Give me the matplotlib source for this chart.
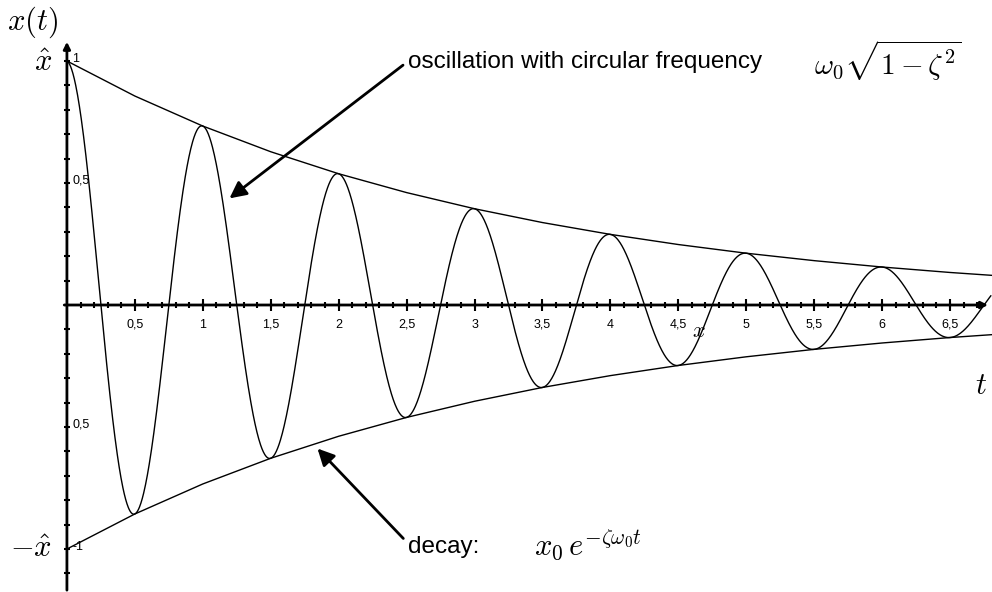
import numpy as np
import matplotlib.pyplot as plt

plt.rcParams['font.family'] = ['Liberation Sans', 'DejaVu Sans']
plt.rcParams['mathtext.fontset'] = 'cm'

# damped oscillation parameters
decay_rate = 0.31      # zeta * omega_0
freq = 1.0             # oscillations per unit of t
t_end = 6.8

x_tick_pos = [0.5, 1, 1.5, 2, 2.5, 3, 3.5, 4, 4.5, 5, 5.5, 6, 6.5]
x_tick_lab = ['0,5', '1', '1,5', '2', '2,5', '3', '3,5', '4', '4,5', '5', '5,5', '6', '6,5']
y_tick_pos = [1, 0.5, -0.5, -1]
y_tick_lab = ['1', '0,5', '0,5', '-1']

t = np.linspace(0, t_end, 2000)
x = np.exp(-decay_rate * t) * np.cos(2 * np.pi * freq * t)
# envelope sampled coarsely, every half period
t_env = np.arange(0, t_end + 0.5, 0.5)
env = np.exp(-decay_rate * t_env)

fig = plt.figure(figsize=(9.92, 5.92), dpi=100)
ax = fig.add_axes([0, 0, 1, 1])
ax.set_xlim(-0.4926, 6.8088)
ax.set_ylim(-1.1762, 1.25)
ax.axis('off')

# curves
ax.plot(t, x, color='black', lw=1.0)
ax.plot(t_env, env, color='black', lw=1.0)
ax.plot(t_env, -env, color='black', lw=1.0)

# axes with arrow heads
ax.annotate('', xy=(6.80, 0), xytext=(-0.04, 0),
            arrowprops=dict(arrowstyle='-|>', color='black', lw=2, mutation_scale=10))
ax.annotate('', xy=(0, 1.09), xytext=(0, -1.18),
            arrowprops=dict(arrowstyle='-|>', color='black', lw=2, mutation_scale=10))

# ticks
minor_x = np.arange(0.1, 6.75, 0.1)
ax.plot(minor_x, np.zeros_like(minor_x), '|', color='black', ms=5, mew=1.5)
ax.plot(x_tick_pos, np.zeros(len(x_tick_pos)), '|', color='black', ms=9, mew=1.5)
minor_y = np.round(np.arange(-1.1, 1.01, 0.1), 2)
ax.plot(np.zeros_like(minor_y), minor_y, '_', color='black', ms=5, mew=1.5)

for p, s in zip(x_tick_pos, x_tick_lab):
    ax.text(p, -0.08, s, ha='center', va='center', fontsize=9)
for p, s in zip(y_tick_pos, y_tick_lab):
    ax.text(0.04, p + 0.01, s, ha='left', va='center', fontsize=9)

# axis labels
ax.text(-0.44, 1.16, '$x(t)$', ha='left', va='center', fontsize=22)
ax.text(-0.11, 0.99, r'$\hat{x}$', ha='right', va='center', fontsize=22)
ax.text(-0.11, -1.0, r'$-\hat{x}$', ha='right', va='center', fontsize=22)
ax.text(6.73, -0.33, '$t$', ha='center', va='center', fontsize=22)
ax.text(4.65, -0.11, '$x$', ha='center', va='center', fontsize=16)

# annotations
ax.annotate('', xy=(1.18, 0.43), xytext=(2.49, 0.99),
            arrowprops=dict(arrowstyle='-|>', color='black', lw=2, mutation_scale=25))
ax.text(2.51, 0.995, 'oscillation with circular frequency', ha='left', va='center', fontsize=17.5)
ax.text(5.5, 1.0, r'$\omega_0\sqrt{1-\zeta^2}$', ha='left', va='center', fontsize=21)

ax.annotate('', xy=(1.83, -0.58), xytext=(2.49, -0.965),
            arrowprops=dict(arrowstyle='-|>', color='black', lw=2, mutation_scale=25))
ax.text(2.51, -0.99, 'decay:', ha='left', va='center', fontsize=17.5)
ax.text(3.44, -0.985, r'$x_0\,e^{-\zeta\omega_0 t}$', ha='left', va='center', fontsize=22)

fig.savefig('out.png', dpi=100)
